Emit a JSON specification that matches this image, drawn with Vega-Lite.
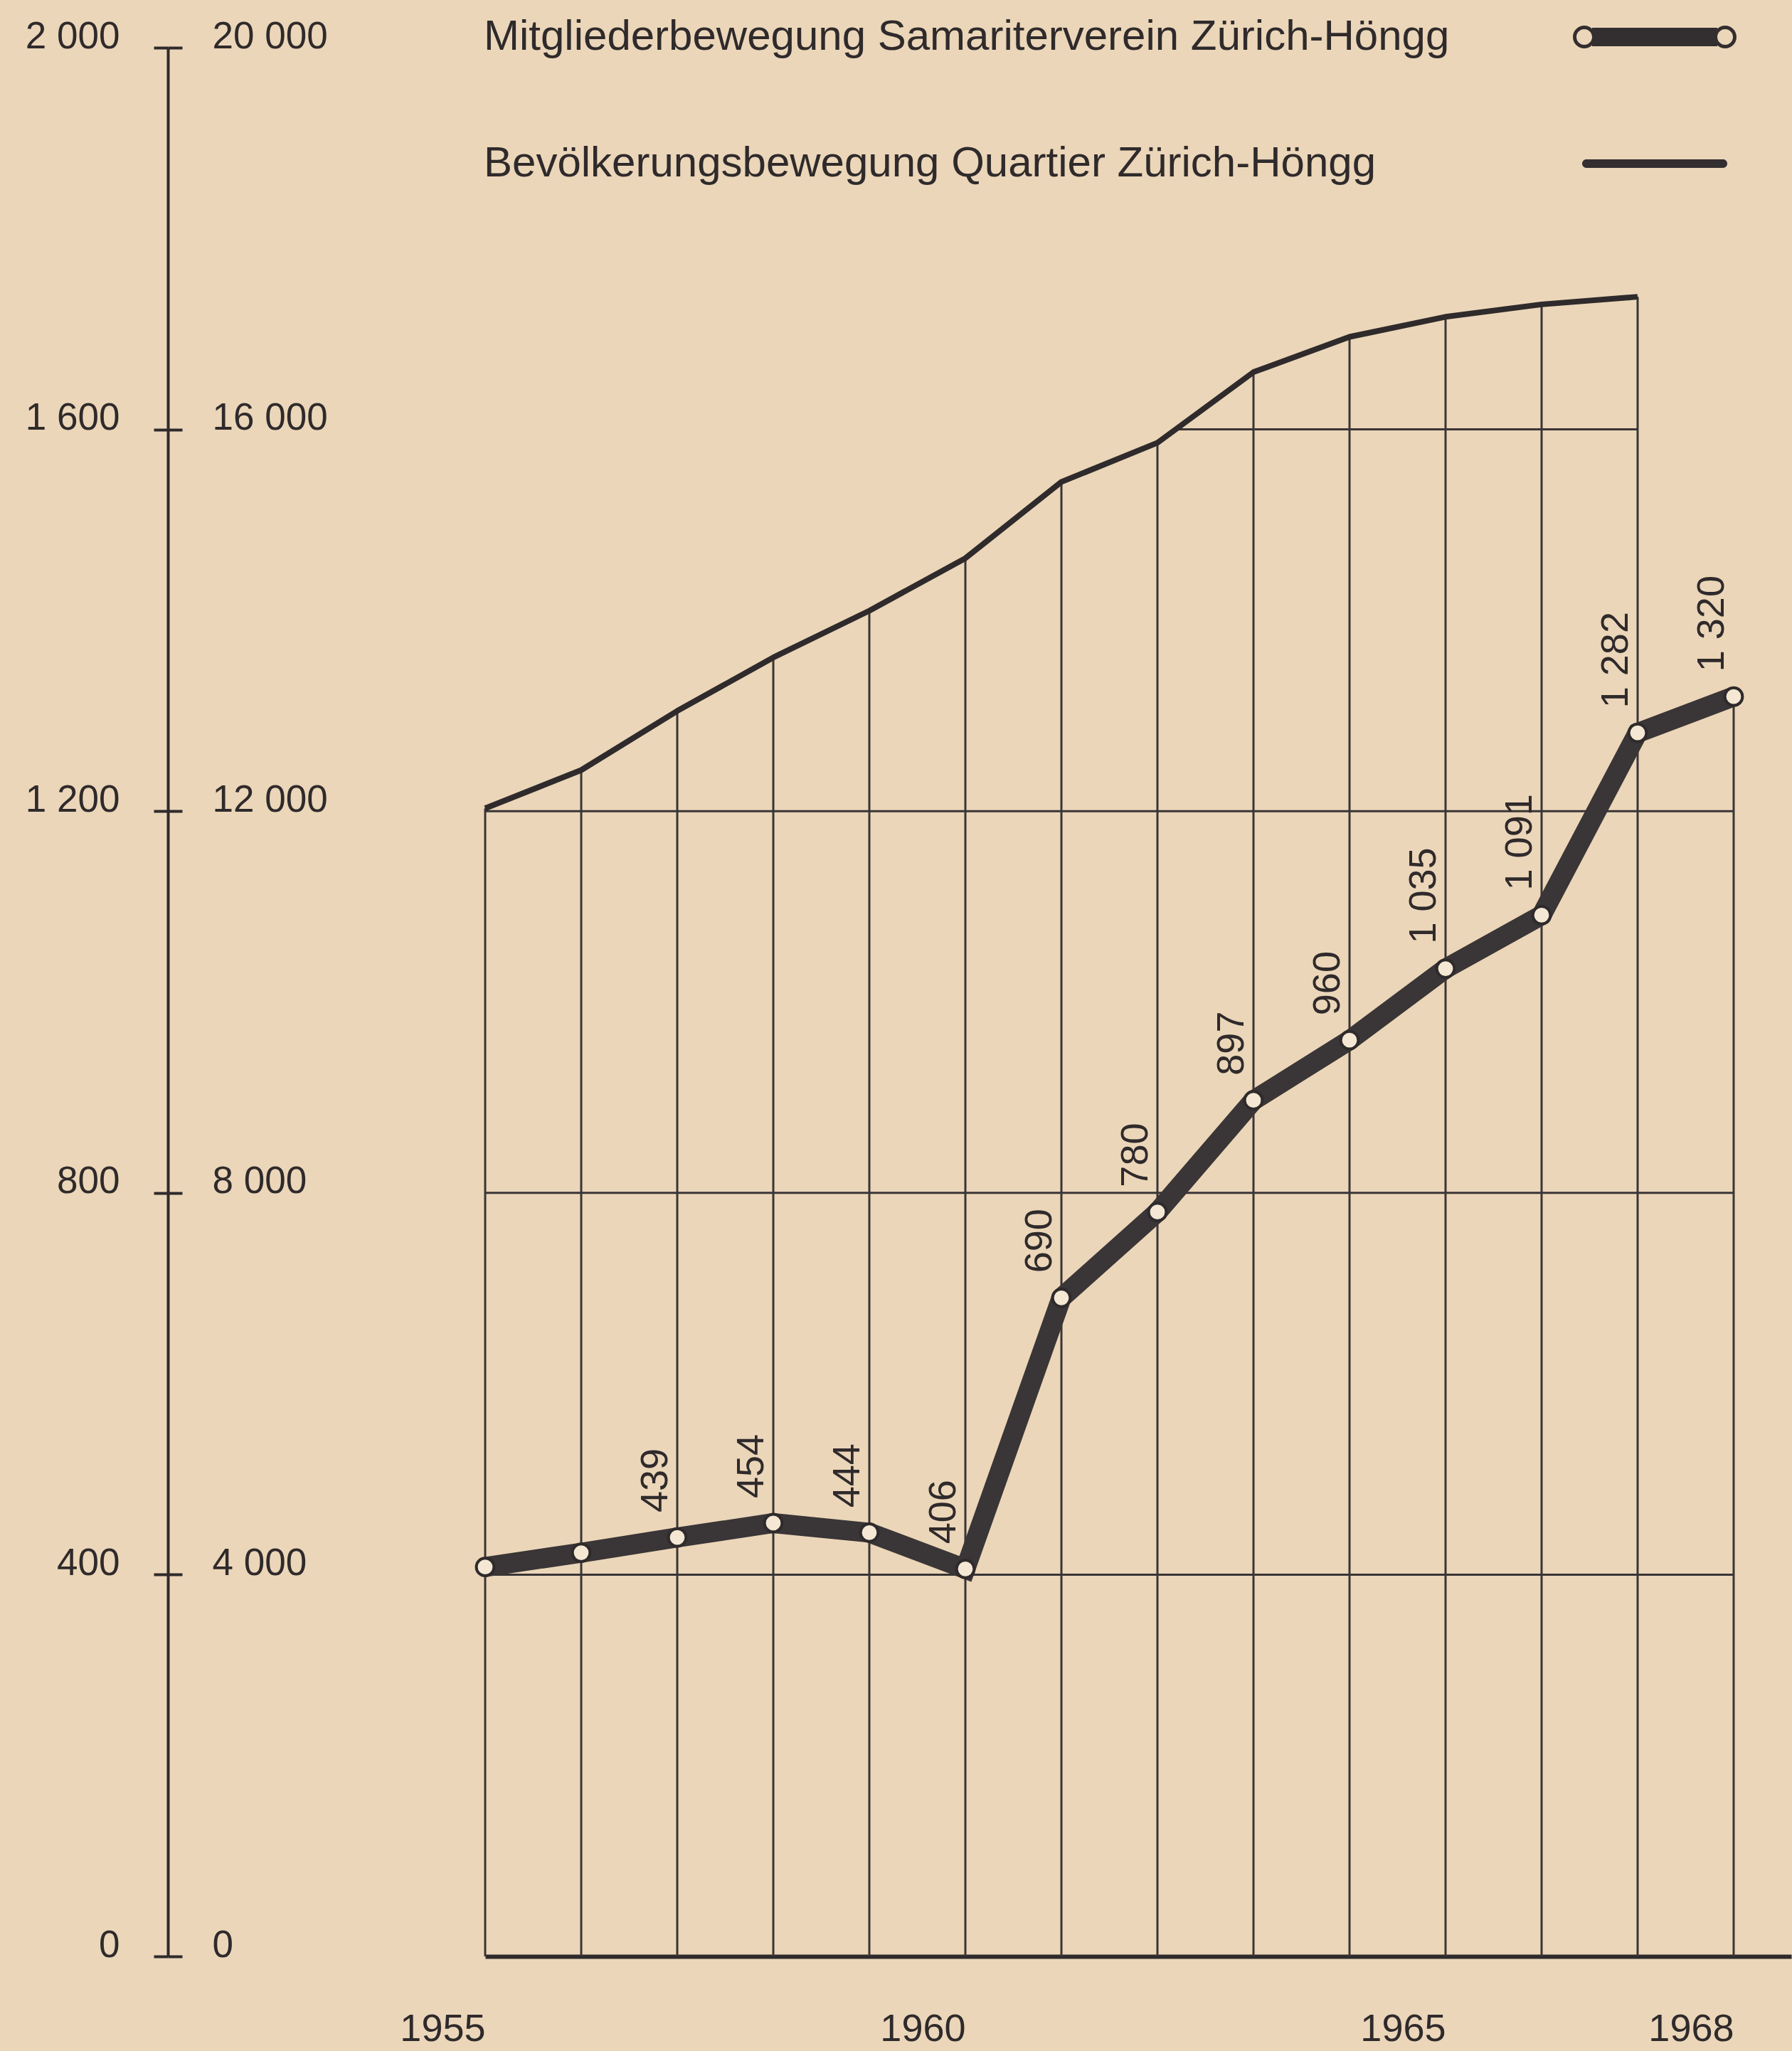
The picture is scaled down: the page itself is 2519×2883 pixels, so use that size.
{
  "$schema": "https://vega.github.io/schema/vega-lite/v6.json",
  "width": 1836,
  "height": 2683,
  "autosize": {"type": "none"},
  "padding": {"left": 682, "top": 67, "right": 1, "bottom": 133},
  "background": "#EBD6B9",
  "config": {
    "view": {"stroke": null},
    "font": "Liberation Sans",
    "locale": {"number": {"decimal": ",", "thousands": " ", "grouping": [3], "currency": ["", ""]}}
  },
  "datasets": {
    "members": [
      {"year": 1955, "members": 408},
      {"year": 1956, "members": 423},
      {"year": 1957, "members": 439},
      {"year": 1958, "members": 454},
      {"year": 1959, "members": 444},
      {"year": 1960, "members": 406},
      {"year": 1961, "members": 690},
      {"year": 1962, "members": 780},
      {"year": 1963, "members": 897},
      {"year": 1964, "members": 960},
      {"year": 1965, "members": 1035},
      {"year": 1966, "members": 1091},
      {"year": 1967, "members": 1282},
      {"year": 1968, "members": 1320}
    ],
    "population": [
      {"year": 1955, "pop": 12030},
      {"year": 1956, "pop": 12430},
      {"year": 1957, "pop": 13050},
      {"year": 1958, "pop": 13610},
      {"year": 1959, "pop": 14100},
      {"year": 1960, "pop": 14650},
      {"year": 1961, "pop": 15450},
      {"year": 1962, "pop": 15860},
      {"year": 1963, "pop": 16600},
      {"year": 1964, "pop": 16970},
      {"year": 1965, "pop": 17180},
      {"year": 1966, "pop": 17310},
      {"year": 1967, "pop": 17390}
    ],
    "hgrid": [
      {"year": 1955, "year_end": 1968, "level": 400},
      {"year": 1955, "year_end": 1968, "level": 800},
      {"year": 1955, "year_end": 1968, "level": 1200},
      {"year": 1962.2, "year_end": 1967, "level": 1600}
    ]
  },
  "encoding": {
    "x": {
      "field": "year",
      "type": "quantitative",
      "scale": {"domain": [1955, 1968.6], "nice": false, "zero": false},
      "axis": {
        "values": [1955, 1960, 1965, 1968],
        "format": "d",
        "title": null,
        "grid": false,
        "ticks": false,
        "domain": true,
        "domainColor": "#2f2a2b",
        "domainWidth": 6,
        "labelAlign": "right",
        "labelBaseline": "middle",
        "labelPadding": 102,
        "labelFont": "Liberation Sans",
        "labelFontSize": 54,
        "labelColor": "#2f2a2b",
        "labelFlush": false,
        "labelOverlap": false,
        "labelBound": false
      }
    }
  },
  "layer": [
    {
      "data": {"name": "population"},
      "mark": {"type": "rule", "strokeWidth": 3, "color": "#3a3536"},
      "encoding": {
        "y": {"field": "pop", "type": "quantitative", "scale": {"domain": [0, 20000], "nice": false}, "axis": null},
        "y2": {"datum": 0}
      }
    },
    {
      "data": {"name": "members"},
      "transform": [{"filter": "datum.year == 1968"}],
      "mark": {"type": "rule", "strokeWidth": 3, "color": "#3a3536"},
      "encoding": {
        "y": {"field": "members", "type": "quantitative", "scale": {"domain": [0, 2000], "nice": false}, "axis": null},
        "y2": {"datum": 0}
      }
    },
    {
      "data": {"name": "hgrid"},
      "mark": {"type": "rule", "strokeWidth": 3, "color": "#3a3536"},
      "encoding": {
        "x2": {"field": "year_end"},
        "y": {"field": "level", "type": "quantitative", "scale": {"domain": [0, 2000], "nice": false}, "axis": null}
      }
    },
    {
      "data": {"name": "population"},
      "mark": {"type": "line", "strokeWidth": 8, "strokeJoin": "round"},
      "encoding": {
        "y": {
          "field": "pop",
          "type": "quantitative",
          "scale": {"domain": [0, 20000], "nice": false},
          "axis": {
            "orient": "left",
            "offset": 446,
            "values": [0, 4000, 8000, 12000, 16000, 20000],
            "format": ",d",
            "title": null,
            "grid": false,
            "domain": false,
            "ticks": true,
            "tickSize": -20,
            "tickWidth": 4,
            "tickColor": "#2f2a2b",
            "labelAlign": "left",
            "labelBaseline": "middle",
            "labelPadding": -42,
            "labelOffset": -16,
            "labelFont": "Liberation Sans",
            "labelFontSize": 53,
            "labelColor": "#2f2a2b",
            "labelFlush": false,
            "labelOverlap": false,
            "labelBound": false
          }
        },
        "color": {
          "datum": "Bevölkerungsbewegung Quartier Zürich-Höngg",
          "type": "nominal",
          "scale": {
            "domain": ["Mitgliederbewegung Samariterverein Zürich-Höngg", "Bevölkerungsbewegung Quartier Zürich-Höngg"],
            "range": ["#3a3536", "#2f2a2b"]
          },
          "legend": {
            "title": null,
            "orient": "none",
            "legendX": 1529,
            "legendY": -130,
            "direction": "vertical",
            "padding": 0,
            "rowPadding": 33,
            "labelOffset": -1761,
            "labelAlign": "left",
            "labelBaseline": "middle",
            "labelFont": "Liberation Sans",
            "labelFontSize": 60,
            "labelColor": "#2f2a2b",
            "labelLimit": 0,
            "symbolSize": 52900,
            "symbolStrokeWidth": 0,
            "encode": {
              "symbols": {
                "update": {
                  "shape": {"signal": "indexof(datum.value, 'Mitglieder') >= 0 ? 'M-1,0A0.139,0.139,0,1,1,-0.722,0A0.139,0.139,0,1,1,-1,0ZM-0.9567,0A0.0957,0.0957,0,1,0,-0.7653,0A0.0957,0.0957,0,1,0,-0.9567,0ZM0.722,0A0.139,0.139,0,1,1,1,0A0.139,0.139,0,1,1,0.722,0ZM0.7653,0A0.0957,0.0957,0,1,0,0.9567,0A0.0957,0.0957,0,1,0,0.7653,0ZM-0.7653,-0.113L0.7653,-0.113L0.7653,0.113L-0.7653,0.113Z' : 'M-0.835,-0.052L0.835,-0.052A0.052,0.052,0,0,1,0.835,0.052L-0.835,0.052A0.052,0.052,0,0,1,-0.835,-0.052Z'"},
                  "fill": {"value": "#332e2f"},
                  "stroke": {"value": "transparent"},
                  "strokeWidth": {"value": 0},
                  "size": {"value": 52900},
                  "opacity": {"value": 1}
                }
              }
            }
          }
        }
      }
    },
    {
      "data": {"name": "members"},
      "mark": {"type": "line", "strokeWidth": 28},
      "encoding": {
        "y": {
          "field": "members",
          "type": "quantitative",
          "scale": {"domain": [0, 2000], "nice": false},
          "axis": {
            "orient": "left",
            "offset": 446,
            "values": [0, 400, 800, 1200, 1600, 2000],
            "format": ",d",
            "title": null,
            "grid": false,
            "domain": true,
            "domainColor": "#2f2a2b",
            "domainWidth": 4,
            "ticks": true,
            "tickSize": 20,
            "tickWidth": 4,
            "tickColor": "#2f2a2b",
            "labelAlign": "right",
            "labelBaseline": "middle",
            "labelPadding": 48,
            "labelOffset": -16,
            "labelFont": "Liberation Sans",
            "labelFontSize": 53,
            "labelColor": "#2f2a2b",
            "labelFlush": false,
            "labelOverlap": false,
            "labelBound": false
          }
        },
        "color": {
          "datum": "Mitgliederbewegung Samariterverein Zürich-Höngg",
          "type": "nominal",
          "scale": {
            "domain": ["Mitgliederbewegung Samariterverein Zürich-Höngg", "Bevölkerungsbewegung Quartier Zürich-Höngg"],
            "range": ["#3a3536", "#2f2a2b"]
          },
          "legend": {
            "title": null,
            "orient": "none",
            "legendX": 1529,
            "legendY": -130,
            "direction": "vertical",
            "padding": 0,
            "rowPadding": 33,
            "labelOffset": -1761,
            "labelAlign": "left",
            "labelBaseline": "middle",
            "labelFont": "Liberation Sans",
            "labelFontSize": 60,
            "labelColor": "#2f2a2b",
            "labelLimit": 0,
            "symbolSize": 52900,
            "symbolStrokeWidth": 0,
            "encode": {
              "symbols": {
                "update": {
                  "shape": {"signal": "indexof(datum.value, 'Mitglieder') >= 0 ? 'M-1,0A0.139,0.139,0,1,1,-0.722,0A0.139,0.139,0,1,1,-1,0ZM-0.9567,0A0.0957,0.0957,0,1,0,-0.7653,0A0.0957,0.0957,0,1,0,-0.9567,0ZM0.722,0A0.139,0.139,0,1,1,1,0A0.139,0.139,0,1,1,0.722,0ZM0.7653,0A0.0957,0.0957,0,1,0,0.9567,0A0.0957,0.0957,0,1,0,0.7653,0ZM-0.7653,-0.113L0.7653,-0.113L0.7653,0.113L-0.7653,0.113Z' : 'M-0.835,-0.052L0.835,-0.052A0.052,0.052,0,0,1,0.835,0.052L-0.835,0.052A0.052,0.052,0,0,1,-0.835,-0.052Z'"},
                  "fill": {"value": "#332e2f"},
                  "stroke": {"value": "transparent"},
                  "strokeWidth": {"value": 0},
                  "size": {"value": 52900},
                  "opacity": {"value": 1}
                }
              }
            }
          }
        }
      }
    },
    {
      "data": {"name": "members"},
      "mark": {"type": "point", "shape": "circle", "filled": true, "fill": "#f4e8d4", "stroke": "#2f2a2b", "strokeWidth": 4, "size": 615, "opacity": 1},
      "encoding": {
        "y": {"field": "members", "type": "quantitative", "scale": {"domain": [0, 2000], "nice": false}, "axis": null}
      }
    },
    {
      "data": {"name": "members"},
      "transform": [{"filter": "datum.year >= 1957"}],
      "mark": {"type": "text", "angle": 270, "align": "left", "baseline": "alphabetic", "dx": 35, "dy": -14, "font": "Liberation Sans", "fontSize": 54, "fill": "#2f2a2b"},
      "encoding": {
        "y": {"field": "members", "type": "quantitative", "scale": {"domain": [0, 2000], "nice": false}, "axis": null},
        "text": {"field": "members", "type": "quantitative", "format": ","}
      }
    }
  ],
  "resolve": {"scale": {"y": "independent"}, "axis": {"y": "independent"}}
}
